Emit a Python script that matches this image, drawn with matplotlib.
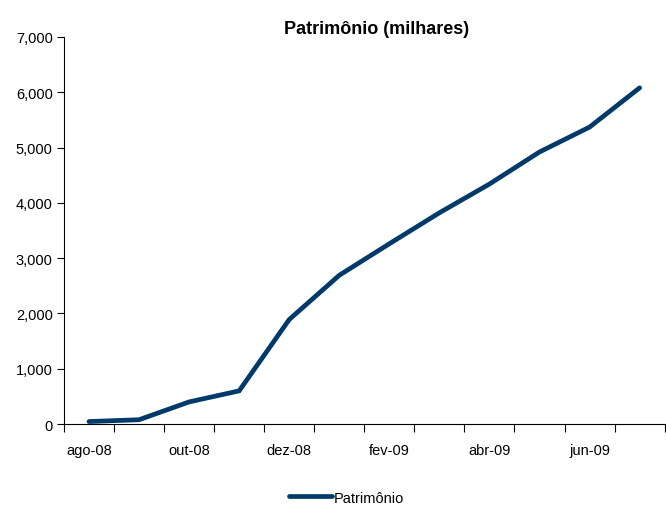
import matplotlib
matplotlib.use("Agg")
import matplotlib.pyplot as plt
from matplotlib.ticker import FuncFormatter, FixedLocator

plt.rcParams['font.family'] = ['Liberation Sans', 'DejaVu Sans']

months = ["ago-08", "set-08", "out-08", "nov-08", "dez-08", "jan-09",
          "fev-09", "mar-09", "abr-09", "mai-09", "jun-09", "jul-09"]
patrimonio = [45, 78, 400, 600, 1890, 2690, 3260, 3820, 4340, 4920, 5370, 6080]

fig = plt.figure(figsize=(6.66, 5.06), dpi=100)
ax = fig.add_axes([0.096, 0.160, 0.902, 0.765])

x = list(range(len(months)))
ax.plot(x, patrimonio, color='#003a6b', lw=3.4, solid_capstyle='round',
        solid_joinstyle='miter', label='Patrimônio')

ax.set_xlim(-0.5, len(months) - 0.5)
ax.set_ylim(0, 7000)
ax.set_yticks(range(0, 7001, 1000))
ax.yaxis.set_major_formatter(FuncFormatter(lambda v, p: f"{int(v):,}"))

# category boundaries as tick marks, labels every other category center
ax.xaxis.set_major_locator(FixedLocator([i - 0.5 for i in range(len(months) + 1)]))
ax.xaxis.set_major_formatter(FuncFormatter(lambda v, p: ""))
ax.xaxis.set_minor_locator(FixedLocator(x[::2]))
ax.set_xticklabels([months[i] for i in x[::2]], minor=True)
ax.tick_params(axis='x', which='major', direction='out', length=6, width=0.8)
ax.tick_params(axis='x', which='minor', length=0, pad=14, labelsize=10.5)
ax.tick_params(axis='y', direction='out', length=5, width=0.8, labelsize=10.5, pad=3)

for s in ['top', 'right']:
    ax.spines[s].set_visible(False)
for s in ['left', 'bottom']:
    ax.spines[s].set_linewidth(0.8)

ax.set_title('Patrimônio (milhares)', fontsize=13, fontweight='bold', pad=3, x=0.52)

fig.legend(loc='lower center', bbox_to_anchor=(0.52, -0.025), frameon=False,
           fontsize=10.5, handlelength=3.0, handletextpad=0.1)

fig.savefig('out.png', dpi=100)
